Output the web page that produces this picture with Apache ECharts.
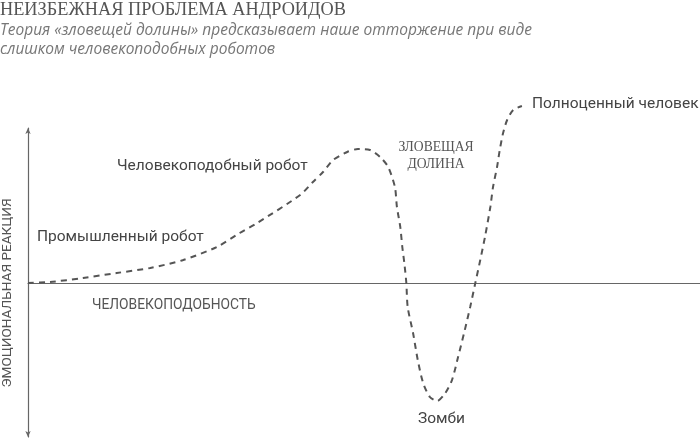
<!DOCTYPE html>
<html>
<head>
<meta charset="utf-8">
<script src="https://cdn.jsdelivr.net/npm/echarts@6/dist/echarts.min.js"></script>
<style>
html,body{margin:0;padding:0;background:#fff;}
#chart{width:700px;height:439px;}
</style>
</head>
<body>
<div id="chart"></div>
<script>
// Human-likeness (0..100) and emotional response (arbitrary units)
const humanLikeness = [0, 3.3, 8.2, 13.2, 18.2, 23.1, 28.1, 31.5, 34.1, 40.5, 42.4, 43.9, 45.4, 47.5, 49.1, 50.9, 52.4, 53.6, 54.6, 54.9, 55.4, 55.7, 56.0, 56.3, 56.5, 57.3, 58.0, 58.8, 59.8, 60.9, 62.1, 63.1, 64.0, 65.0, 65.8, 66.5, 67.3, 68.0, 68.8, 69.2, 69.8, 70.2, 70.7, 71.3, 72.2, 73.5];
const emotionalResponse = [0, 1, 5, 10, 15, 23, 36, 50, 60, 88, 101, 111, 123, 131, 134, 133, 126, 116, 96, 76, 56, 36, 20, 0, -24, -50, -77, -100, -114, -118, -110, -97, -74, -47, -24, -2, 23, 46, 76, 96, 116, 133, 150, 163, 173, 177];

const titleText = 'НЕИЗБЕЖНАЯ ПРОБЛЕМА АНДРОИДОВ';
const subtitleText = 'Теория «зловещей долины» предсказывает наше отторжение при виде\nслишком человекоподобных роботов';
const yAxisName = 'ЭМОЦИОНАЛЬНАЯ РЕАКЦИЯ';
const xAxisName = 'ЧЕЛОВЕКОПОДОБНОСТЬ';
const annIndustrial = 'Промышленный робот';
const annHumanoid = 'Человекоподобный робот';
const annValley = 'ЗЛОВЕЩАЯ\nДОЛИНА';
const annHuman = 'Полноценный человек';
const annZombie = 'Зомби';

const data = humanLikeness.map((x, i) => [x, emotionalResponse[i]]);

const chart = echarts.init(document.getElementById('chart'), null, {renderer: 'canvas'});
const sans = 'Roboto, "Noto Sans", sans-serif';
const serif = '"Liberation Serif", "DejaVu Serif", serif';
const labelStyle = {fontFamily: sans, fontSize: 15.5, fill: '#444'};

chart.setOption({
  animation: false,
  backgroundColor: '#fff',
  title: {
    text: titleText,
    subtext: subtitleText,
    left: 0,
    top: 1,
    padding: [0, 0, 0, 0],
    itemGap: 2,
    textStyle: {fontFamily: serif, fontSize: 18.3, fontWeight: 'normal', color: '#555', lineHeight: 18},
    subtextStyle: {fontFamily: '"Open Sans", "Noto Sans", sans-serif', fontStyle: 'italic', fontSize: 15.5, color: '#777', lineHeight: 19}
  },
  grid: {left: 28, right: 0, top: 128, bottom: 2, outerBoundsMode: 'none', containLabel: false},
  xAxis: {
    type: 'value',
    min: 0,
    max: 100,
    axisLine: {show: true, onZero: true, lineStyle: {color: '#666', width: 1.2}},
    axisTick: {show: false},
    axisLabel: {show: false},
    splitLine: {show: false}
  },
  yAxis: {
    type: 'value',
    min: -154,
    max: 155,
    axisLine: {show: true, onZero: false, symbol: ['arrow', 'arrow'], symbolSize: [4, 6], lineStyle: {color: '#666', width: 1.2}},
    axisTick: {show: false},
    axisLabel: {show: false},
    splitLine: {show: false}
  },
  series: [{
    type: 'line',
    data: data,
    smooth: 0.25,
    showSymbol: false,
    clip: false,
    lineStyle: {color: '#555', width: 2, type: [6, 5]}
  }],
  graphic: [
    {type: 'text', x: 8, y: 293, rotation: Math.PI / 2,
      style: {text: yAxisName, fontFamily: sans, fontSize: 13.6, fill: '#555', align: 'center', verticalAlign: 'middle'}},
    {type: 'text', x: 37, y: 237, style: Object.assign({text: annIndustrial, verticalAlign: 'middle'}, labelStyle)},
    {type: 'text', x: 117, y: 166, style: Object.assign({text: annHumanoid, verticalAlign: 'middle'}, labelStyle)},
    {type: 'text', x: 92, y: 306, style: {text: xAxisName, fontFamily: sans, fontSize: 13.8, fill: '#555', verticalAlign: 'middle'}},
    {type: 'text', x: 436, y: 156, style: {text: annValley, fontFamily: serif, fontSize: 13.6, fill: '#555', lineHeight: 17, align: 'center', verticalAlign: 'middle'}},
    {type: 'text', x: 532, y: 104, style: Object.assign({text: annHuman, verticalAlign: 'middle'}, labelStyle)},
    {type: 'text', x: 418, y: 419, style: Object.assign({text: annZombie, verticalAlign: 'middle'}, labelStyle)}
  ]
});
</script>
</body>
</html>
